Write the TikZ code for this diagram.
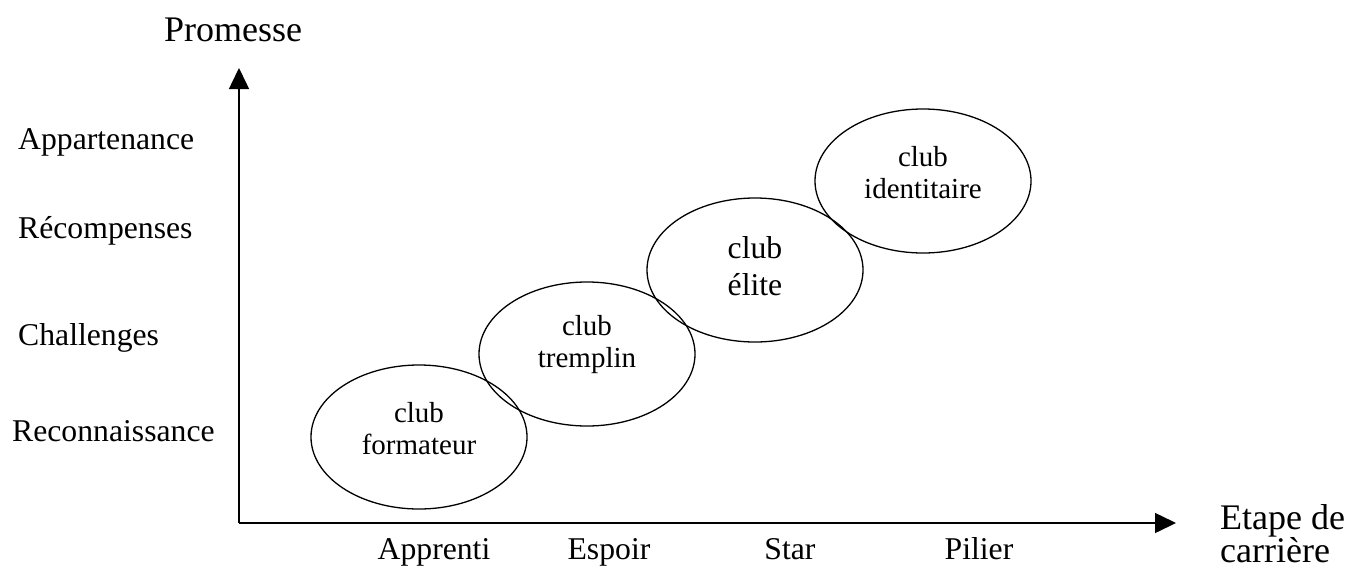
\documentclass[tikz,border=0pt]{standalone}
\usepackage{fontspec}
\setmainfont{Liberation Serif}
\usetikzlibrary{arrows.meta,shapes.geometric}
\begin{document}
\begin{tikzpicture}[x=1pt,y=-1pt,
  axisline/.style={line width=1.5pt,-{Triangle[length=21pt,width=20pt]}},
  clubell/.style={draw,line width=1.3pt,ellipse,minimum width=216pt,minimum height=144pt,inner sep=0pt},
  clubtxt/.style={align=center,font=\fontsize{29}{32}\selectfont,inner sep=0pt},
  ylab/.style={anchor=base west,font=\fontsize{31.7}{36}\selectfont,inner sep=0pt},
  xlab/.style={anchor=base,font=\fontsize{31.7}{36}\selectfont,inner sep=0pt},
  bigtitle/.style={font=\fontsize{36}{33}\selectfont,inner sep=0pt}]
\useasboundingbox (0,0) rectangle (1359,568);
% axes
\coordinate (O) at (239,523);
\coordinate (Ytip) at (239,68);
\coordinate (Xtip) at (1176,523);
\draw[axisline] (O) -- (Ytip);
\draw[axisline] (O) -- (Xtip);
% titles
\node[bigtitle,anchor=base] (promesse) at (233,41) {Promesse};
\node[bigtitle,anchor=base west,align=left] (etape) at (1220,562) {Etape de\\carrière};
% y labels
\node[ylab] (appart) at (18,149) {Appartenance};
\node[ylab] (recomp) at (18,238) {Récompenses};
\node[ylab] (chall) at (18,345) {Challenges};
\node[ylab] (recon) at (12,441) {Reconnaissance};
% x labels
\node[xlab] (apprenti) at (434,559) {Apprenti};
\node[xlab] (espoir) at (609,559) {Espoir};
\node[xlab] (star) at (790,559) {Star};
\node[xlab] (pilier) at (979,559) {Pilier};
% ellipses
\node[clubell] (form) at (419,437) {};
\node[clubell] (tremp) at (587,354) {};
\node[clubell] (elite) at (755,270) {};
\node[clubell] (ident) at (923,181) {};
\node[clubtxt] (formt) at ([yshift=8pt]form.center) {club\\formateur};
\node[clubtxt] (trempt) at ([yshift=9pt]tremp.center) {club\\tremplin};
\node[clubtxt,font=\fontsize{31.7}{37}\selectfont] (elitet) at ([yshift=4pt]elite.center) {club\\élite};
\node[clubtxt] (identt) at ([yshift=8pt]ident.center) {club\\identitaire};
\end{tikzpicture}
\end{document}
